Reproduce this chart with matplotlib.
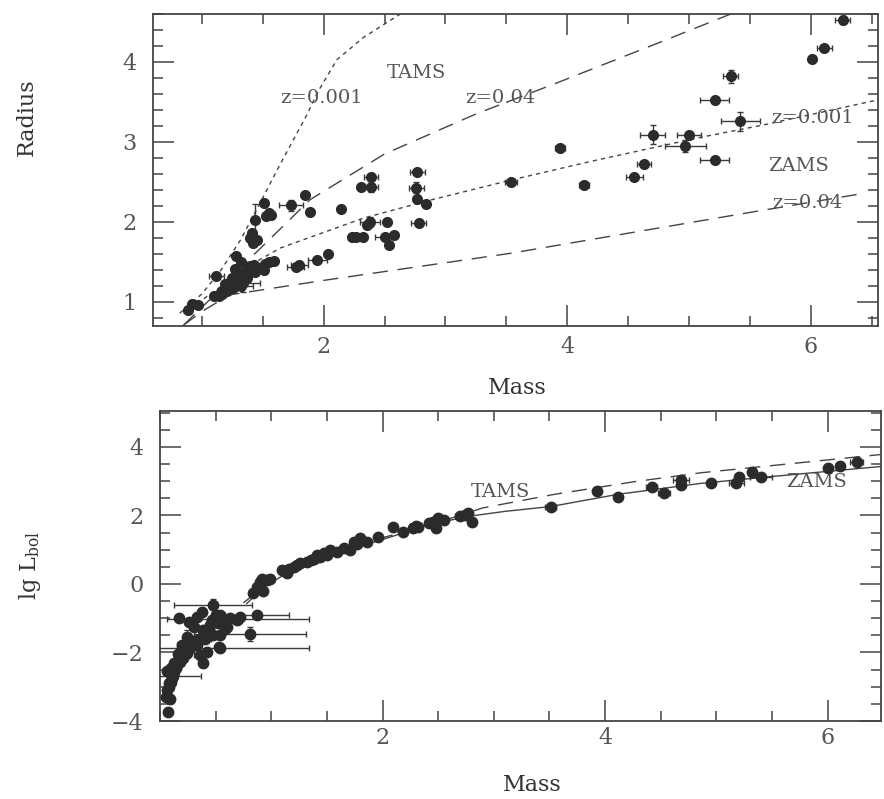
import numpy as np
import matplotlib
matplotlib.use('Agg')
import matplotlib.pyplot as plt

plt.rcParams['font.family'] = ['DejaVu Serif']
plt.rcParams['mathtext.fontset'] = 'dejavuserif'

# ---- top panel: mass-radius data (mass, radius, mass err, radius err)
r_mass = [0.89, 0.92, 0.97, 1.10, 1.14, 1.17, 1.12, 1.19, 1.23, 1.26, 1.30, 1.32, 1.34, 1.27, 1.28, 1.32,
          1.36, 1.38, 1.40, 1.44, 1.47, 1.51, 1.52, 1.55, 1.59, 1.77, 1.80, 1.95, 2.04,
          1.40, 1.42, 1.45, 1.41, 1.44, 1.51, 1.53, 1.55, 1.57, 1.73, 1.85, 1.89, 2.14,
          2.31, 2.39, 2.39, 2.23, 2.27, 2.32, 2.36, 2.38, 2.52, 2.50, 2.54, 2.58,
          2.77, 2.76, 2.77, 2.84, 2.78,
          3.54, 3.94, 4.14, 4.55, 4.63, 4.70, 4.97, 5.00, 5.21, 5.21, 5.34, 5.42, 6.01, 6.11, 6.26,
          1.25, 1.29, 1.33, 1.37, 1.43, 1.21, 1.16]
r_radius = [0.90, 0.98, 0.96, 1.08, 1.08, 1.10, 1.33, 1.22, 1.25, 1.18, 1.28, 1.20, 1.24, 1.41, 1.58, 1.50,
            1.40, 1.35, 1.45, 1.38, 1.42, 1.40, 1.47, 1.50, 1.51, 1.44, 1.46, 1.53, 1.60,
            1.80, 1.74, 1.78, 1.86, 2.02, 2.24, 2.07, 2.11, 2.09, 2.21, 2.34, 2.12, 2.16,
            2.44, 2.56, 2.44, 1.81, 1.81, 1.81, 1.96, 2.00, 2.00, 1.81, 1.71, 1.84,
            2.63, 2.43, 2.29, 2.23, 1.99,
            2.50, 2.92, 2.46, 2.56, 2.72, 3.09, 2.95, 3.09, 3.52, 2.77, 3.82, 3.26, 4.04, 4.18, 4.53,
            1.30, 1.22, 1.35, 1.30, 1.46, 1.14, 1.13]
r_merr = [0, 0, 0, 0, 0, 0, 0.06, 0, 0, 0, 0, 0.10, 0.14, 0, 0, 0,
          0, 0, 0, 0, 0, 0, 0, 0, 0, 0.07, 0.07, 0.08, 0,
          0, 0, 0, 0, 0, 0, 0, 0, 0, 0.10, 0, 0, 0,
          0, 0.06, 0.06, 0, 0, 0, 0, 0.08, 0, 0.08, 0, 0,
          0.06, 0.06, 0, 0, 0.06,
          0.05, 0.04, 0.04, 0.07, 0.06, 0.10, 0.17, 0.10, 0.12, 0.12, 0.06, 0.16, 0.02, 0.06, 0.06,
          0, 0, 0, 0, 0, 0, 0]
r_rerr = [0, 0, 0, 0, 0, 0, 0, 0, 0, 0, 0, 0, 0.12, 0, 0, 0,
          0, 0, 0, 0, 0, 0, 0, 0, 0, 0, 0, 0, 0,
          0, 0, 0, 0, 0.20, 0, 0, 0, 0, 0.07, 0, 0, 0,
          0, 0, 0.07, 0, 0, 0, 0, 0.06, 0, 0, 0, 0,
          0, 0.07, 0, 0, 0,
          0, 0, 0, 0, 0, 0.12, 0.07, 0, 0, 0, 0.08, 0.12, 0, 0, 0.05,
          0, 0, 0, 0, 0, 0, 0]

# evolutionary tracks in the top panel
tams001_m = [0.82, 1.00, 1.15, 1.32, 1.50, 1.65, 1.87, 1.95, 2.11, 2.33, 2.63]
tams001_r = [0.86, 1.10, 1.38, 1.78, 2.30, 2.74, 3.36, 3.62, 4.03, 4.31, 4.60]
tams004_m = [0.85, 1.10, 1.40, 1.89, 2.50, 3.25, 3.90, 4.70, 5.49]
tams004_r = [0.71, 1.08, 1.55, 2.28, 2.85, 3.35, 3.73, 4.21, 4.69]
zams001_m = [0.85, 1.10, 1.35, 1.645, 2.33, 2.88, 3.54, 4.20, 5.10, 5.60, 6.56]
zams001_r = [0.86, 1.13, 1.42, 1.675, 2.05, 2.275, 2.525, 2.76, 3.06, 3.21, 3.53]
zams004_m = [0.85, 1.00, 1.23, 2.00, 3.54, 4.50, 5.50, 6.44]
zams004_r = [0.71, 0.88, 1.09, 1.27, 1.61, 1.86, 2.12, 2.36]

# ---- bottom panel: mass-luminosity data
l_mass = [0.07, 0.05, 0.09, 0.06, 0.08, 0.10, 0.06, 0.09, 0.11, 0.12, 0.14, 0.15, 0.18, 0.21, 0.24, 0.27,
          0.20, 0.27, 0.24, 0.33, 0.36, 0.39, 0.42, 0.39, 0.30, 0.48, 0.53, 0.54, 0.50, 0.48, 0.38,
          0.17, 0.26, 0.33, 0.54, 0.57, 0.63, 0.69, 0.72, 0.87, 0.81, 0.70, 0.54, 0.12, 0.45, 0.60,
          0.84, 0.87, 0.90, 0.92, 0.96, 0.99, 0.93, 1.10, 1.14, 1.20, 1.26, 1.32, 1.38, 1.41, 1.47,
          1.53, 1.59, 1.71, 1.77, 1.80, 1.86, 1.96, 2.09, 2.18, 2.27, 2.32, 2.45, 2.50, 2.48, 2.74,
          2.77, 2.80, 3.51, 3.93, 4.12, 4.42, 4.53, 4.68, 4.68, 4.95, 5.18, 5.20, 5.32, 5.40, 6.00,
          6.11, 6.26,
          0.08, 0.10, 0.13, 0.16, 0.22, 0.29, 0.35, 0.44, 0.52, 0.58, 0.47, 0.40, 0.31, 1.16, 1.23,
          1.36, 1.44, 1.50, 1.65, 1.74, 2.30, 2.42, 2.55, 2.70]
l_lum = [-3.73, -3.29, -3.35, -3.10, -3.00, -2.85, -2.55, -2.60, -2.75, -2.56, -2.45, -2.37, -2.27, -2.17,
         -2.02, -1.88, -1.78, -1.63, -1.55, -1.78, -2.07, -2.32, -1.98, -1.34, -1.70, -1.49, -1.83, -1.49,
         -0.91, -0.60, -0.81, -1.00, -1.10, -0.96, -0.91, -1.10, -1.00, -1.05, -0.96, -0.90, -1.45, -1.01,
         -1.86, -2.70, -1.20, -1.25,
         -0.25, -0.10, 0.07, 0.16, 0.11, 0.16, -0.20, 0.40, 0.31, 0.50, 0.60, 0.64, 0.74, 0.84, 0.89,
         0.98, 0.93, 0.98, 1.18, 1.33, 1.23, 1.37, 1.67, 1.52, 1.62, 1.67, 1.82, 1.92, 1.62, 2.01,
         2.06, 1.82, 2.26, 2.70, 2.55, 2.82, 2.67, 3.04, 2.89, 2.94, 2.94, 3.13, 3.26, 3.13, 3.39,
         3.44, 3.57,
         -2.90, -2.45, -2.30, -2.05, -1.90, -1.75, -1.60, -1.35, -1.15, -1.30, -1.05, -1.60, -1.25, 0.45, 0.55,
         0.70, 0.80, 0.86, 1.05, 1.22, 1.70, 1.78, 1.86, 1.98]
l_merr = [0, 0, 0, 0, 0, 0, 0, 0, 0, 0.05, 0, 0, 0, 0, 0, 0,
          0.05, 0, 0, 0, 0.05, 0, 0, 0, 0, 0, 0, 0, 0, 0.35, 0,
          0, 0, 0, 0, 0, 0, 0, 0, 0.29, 0.50, 0.64, 0.80, 0.25, 0, 0,
          0, 0, 0, 0, 0, 0, 0, 0, 0, 0, 0, 0, 0, 0, 0,
          0, 0, 0, 0, 0, 0, 0, 0, 0, 0, 0, 0, 0, 0, 0,
          0, 0, 0.05, 0, 0, 0.05, 0.05, 0.07, 0, 0, 0.07, 0, 0, 0.10, 0,
          0, 0.06,
          0, 0, 0, 0, 0.05, 0, 0, 0, 0, 0, 0, 0.06, 0, 0, 0,
          0, 0, 0, 0, 0, 0.05, 0, 0, 0.05]
l_lerr = [0.10, 0.10, 0, 0.15, 0, 0, 0, 0, 0, 0, 0, 0, 0, 0, 0.15, 0,
          0.10, 0, 0.20, 0, 0, 0.10, 0, 0, 0, 0, 0, 0, 0, 0.15, 0,
          0, 0, 0, 0, 0, 0, 0, 0, 0, 0.20, 0, 0, 0.25, 0, 0,
          0, 0, 0, 0, 0, 0, 0, 0, 0, 0, 0, 0, 0, 0, 0,
          0, 0, 0, 0, 0, 0, 0, 0, 0, 0, 0, 0, 0, 0.10, 0,
          0, 0, 0, 0, 0, 0, 0, 0, 0, 0, 0, 0, 0, 0, 0,
          0, 0,
          0.12, 0, 0, 0, 0.10, 0, 0, 0, 0, 0, 0, 0, 0, 0, 0,
          0, 0, 0, 0, 0, 0, 0, 0, 0]

zams_m = [0.78, 0.85, 0.93, 1.08, 1.30, 1.53, 1.80, 2.08, 2.44, 2.83, 3.10, 3.51, 4.12, 4.87, 5.54, 6.48]
zams_l = [-0.57, -0.35, -0.10, 0.20, 0.50, 0.79, 1.10, 1.38, 1.76, 2.00, 2.12, 2.26, 2.62, 2.94, 3.15, 3.43]
tams_m = [0.75, 1.00, 1.50, 2.00, 2.50, 2.90, 3.55, 4.27, 4.87, 5.48, 6.48]
tams_l = [-0.55, 0.10, 0.80, 1.35, 1.80, 2.22, 2.62, 2.99, 3.25, 3.45, 3.78]

INK = '#2b2b2b'
GREY = '#555555'

fig = plt.figure(figsize=(8.84, 7.99), dpi=100)
W, H = 884, 799
ax1 = fig.add_axes([153 / W, 1 - 326 / H, (878 - 153) / W, (326 - 14) / H])
ax2 = fig.add_axes([160 / W, 1 - 721 / H, (881 - 160) / W, (721 - 411) / H])


def style(ax, ypad, xpad):
    for s in ax.spines.values():
        s.set_color('#444444'); s.set_linewidth(1.3)
    ax.tick_params(which='both', direction='in', top=True, right=True, color='#444444', width=1.1,
                   labelsize=16, labelcolor=GREY)
    ax.tick_params(which='major', length=15)
    ax.tick_params(which='minor', length=7)
    ax.tick_params(axis='y', pad=ypad)
    ax.tick_params(axis='x', pad=xpad)
    ax.set_xticks([2, 4, 6])
    ax.set_xticks(np.arange(0, 7, 0.5), minor=True)


def points(ax, m, v, me, ve, ms):
    me = np.array(me); ve = np.array(ve)
    ax.errorbar(m, v, xerr=np.where(me > 0, me, np.nan), yerr=np.where(ve > 0, ve, np.nan),
                fmt='none', ecolor='#3a3a3a', elinewidth=1.0, capsize=2.5, capthick=1.0, zorder=3)
    ax.plot(m, v, 'o', color=INK, ms=ms, mec=INK, zorder=4)


# top panel
ax1.plot(tams001_m, tams001_r, color='#444444', lw=1.0, dashes=(3, 3))
ax1.plot(tams004_m, tams004_r, color='#444444', lw=1.0, dashes=(11, 7))
ax1.plot(zams001_m, zams001_r, color='#444444', lw=1.0, dashes=(3, 3))
ax1.plot(zams004_m, zams004_r, color='#444444', lw=1.0, dashes=(11, 7))
points(ax1, r_mass, r_radius, r_merr, r_rerr, 7)
style(ax1, 12, 7)
ax1.set_yticks([1, 2, 3, 4])
ax1.set_yticks(np.arange(0.8, 4.61, 0.2), minor=True)
ax1.set_xlim(0.6, 6.55)
ax1.set_ylim(0.7, 4.6)

tk = dict(fontsize=14, color=GREY, ha='center', va='center')
ax1.text(2.76, 3.86, 'TAMS', **tk)
ax1.text(1.98, 3.55, 'z=0.001', **tk)
ax1.text(3.45, 3.55, 'z=0.04', **tk)
ax1.text(6.01, 3.30, 'z=0.001', **tk)
ax1.text(5.90, 2.70, 'ZAMS', **tk)
ax1.text(5.97, 2.24, 'z=0.04', **tk)

# bottom panel
ax2.plot(tams_m, tams_l, color='#444444', lw=1.0, dashes=(11, 7))
ax2.plot(zams_m, zams_l, color='#444444', lw=1.0)
points(ax2, l_mass, l_lum, l_merr, l_lerr, 7.5)
style(ax2, 12, 4)
ax2.set_yticks([-4, -2, 0, 2, 4])
ax2.set_yticks(np.arange(-4, 5.01, 0.5), minor=True)
ax2.set_xlim(0.0, 6.48)
ax2.set_ylim(-4.0, 5.05)
ax2.text(3.06, 2.69, 'TAMS', **tk)
ax2.text(5.90, 2.99, 'ZAMS', **tk)

lab = dict(fontsize=16, color='#333333', ha='center', va='center')
fig.text(27 / W, 1 - 117 / H, 'Radius', rotation=90, **lab)
fig.text(517 / W, 1 - 388 / H, 'Mass', **lab)
fig.text(30 / W, 1 - 565 / H, r'lg L$_{\rm bol}$', rotation=90, **lab)
fig.text(532 / W, 1 - 785 / H, 'Mass', **lab)

fig.savefig('out.png', dpi=100, facecolor='white')
